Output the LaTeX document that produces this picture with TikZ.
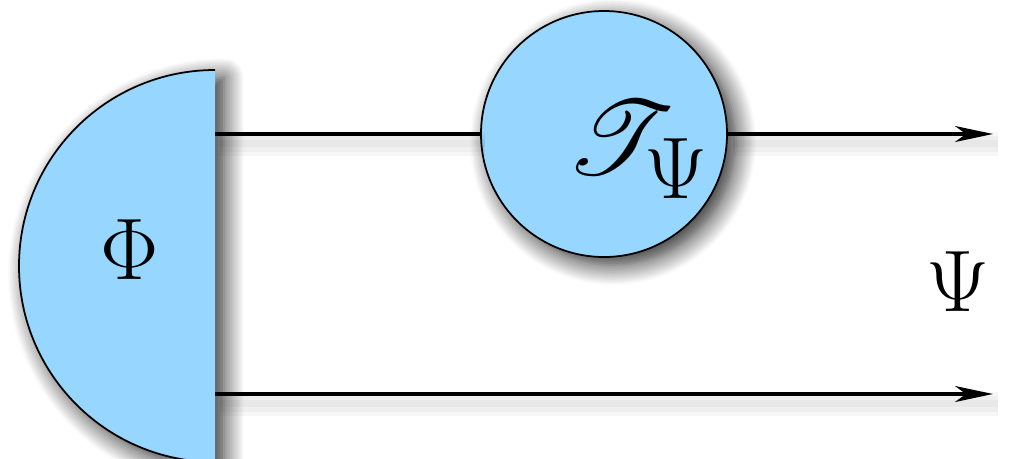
\documentclass[tikz,border=0pt]{standalone}
\usepackage{amsmath}
\usepackage{mathrsfs}
\usetikzlibrary{arrows.meta, positioning, calc, shadows.blur}
\definecolor{valskyblue}{RGB}{150,214,255}

\tikzset{
	softshadow/.style={blur shadow={shadow xshift=0.09cm, shadow yshift=-0.08cm,
		shadow blur radius=0.2cm, shadow opacity=85, shadow blur steps=12}},
	wire/.style={line width=0.9pt, draw=black,
		preaction={draw=black, -, opacity=0.03, line width=7pt,
			transform canvas={xshift=1.5pt, yshift=-2.8pt}},
		preaction={draw=black, -, opacity=0.03, line width=4.5pt,
			transform canvas={xshift=1.5pt, yshift=-2.8pt}},
		preaction={draw=black, -, opacity=0.03, line width=2pt,
			transform canvas={xshift=1.5pt, yshift=-2.8pt}}},
	tip/.style={-{Stealth[length=3.8mm, width=1.6mm, inset=1.1mm]}},
	bigmath/.style={font=\Huge},
}

\begin{document}
\begin{tikzpicture}
	\useasboundingbox (0,0) rectangle (10.10,4.58);
	% state
	\coordinate (phitop) at (2.15,3.88);
	\fill[valskyblue, softshadow] (phitop) arc[start angle=90, end angle=270, radius=1.96] -- cycle;
	\draw[line width=0.5pt] (phitop) arc[start angle=90, end angle=270, radius=1.96];
	\node[bigmath] (phi) at (1.30,2.08) {$\Phi$};
	% operator
	\node[circle, draw, line width=0.5pt, fill=valskyblue, minimum size=2.46cm, softshadow] (T) at (6.04,3.24) {};
	\node[bigmath] (Tlabel) at (6.38,3.08) {\scalebox{1.2}{$\mathscr{T}_{\Psi}$}};
	% wires
	\coordinate (inA) at (2.15,3.24);
	\coordinate (inB) at (2.15,0.64);
	\coordinate (outA) at (9.93,3.24);
	\coordinate (outB) at (9.93,0.64);
	\draw[wire] (inA) -- (T.west);
	\draw[wire, tip] (T.east) -- (outA);
	\draw[wire, tip] (inB) -- (outB);
	% output
	\node[bigmath] (psi) at (9.58,1.76) {$\Psi$};
\end{tikzpicture}
\end{document}
